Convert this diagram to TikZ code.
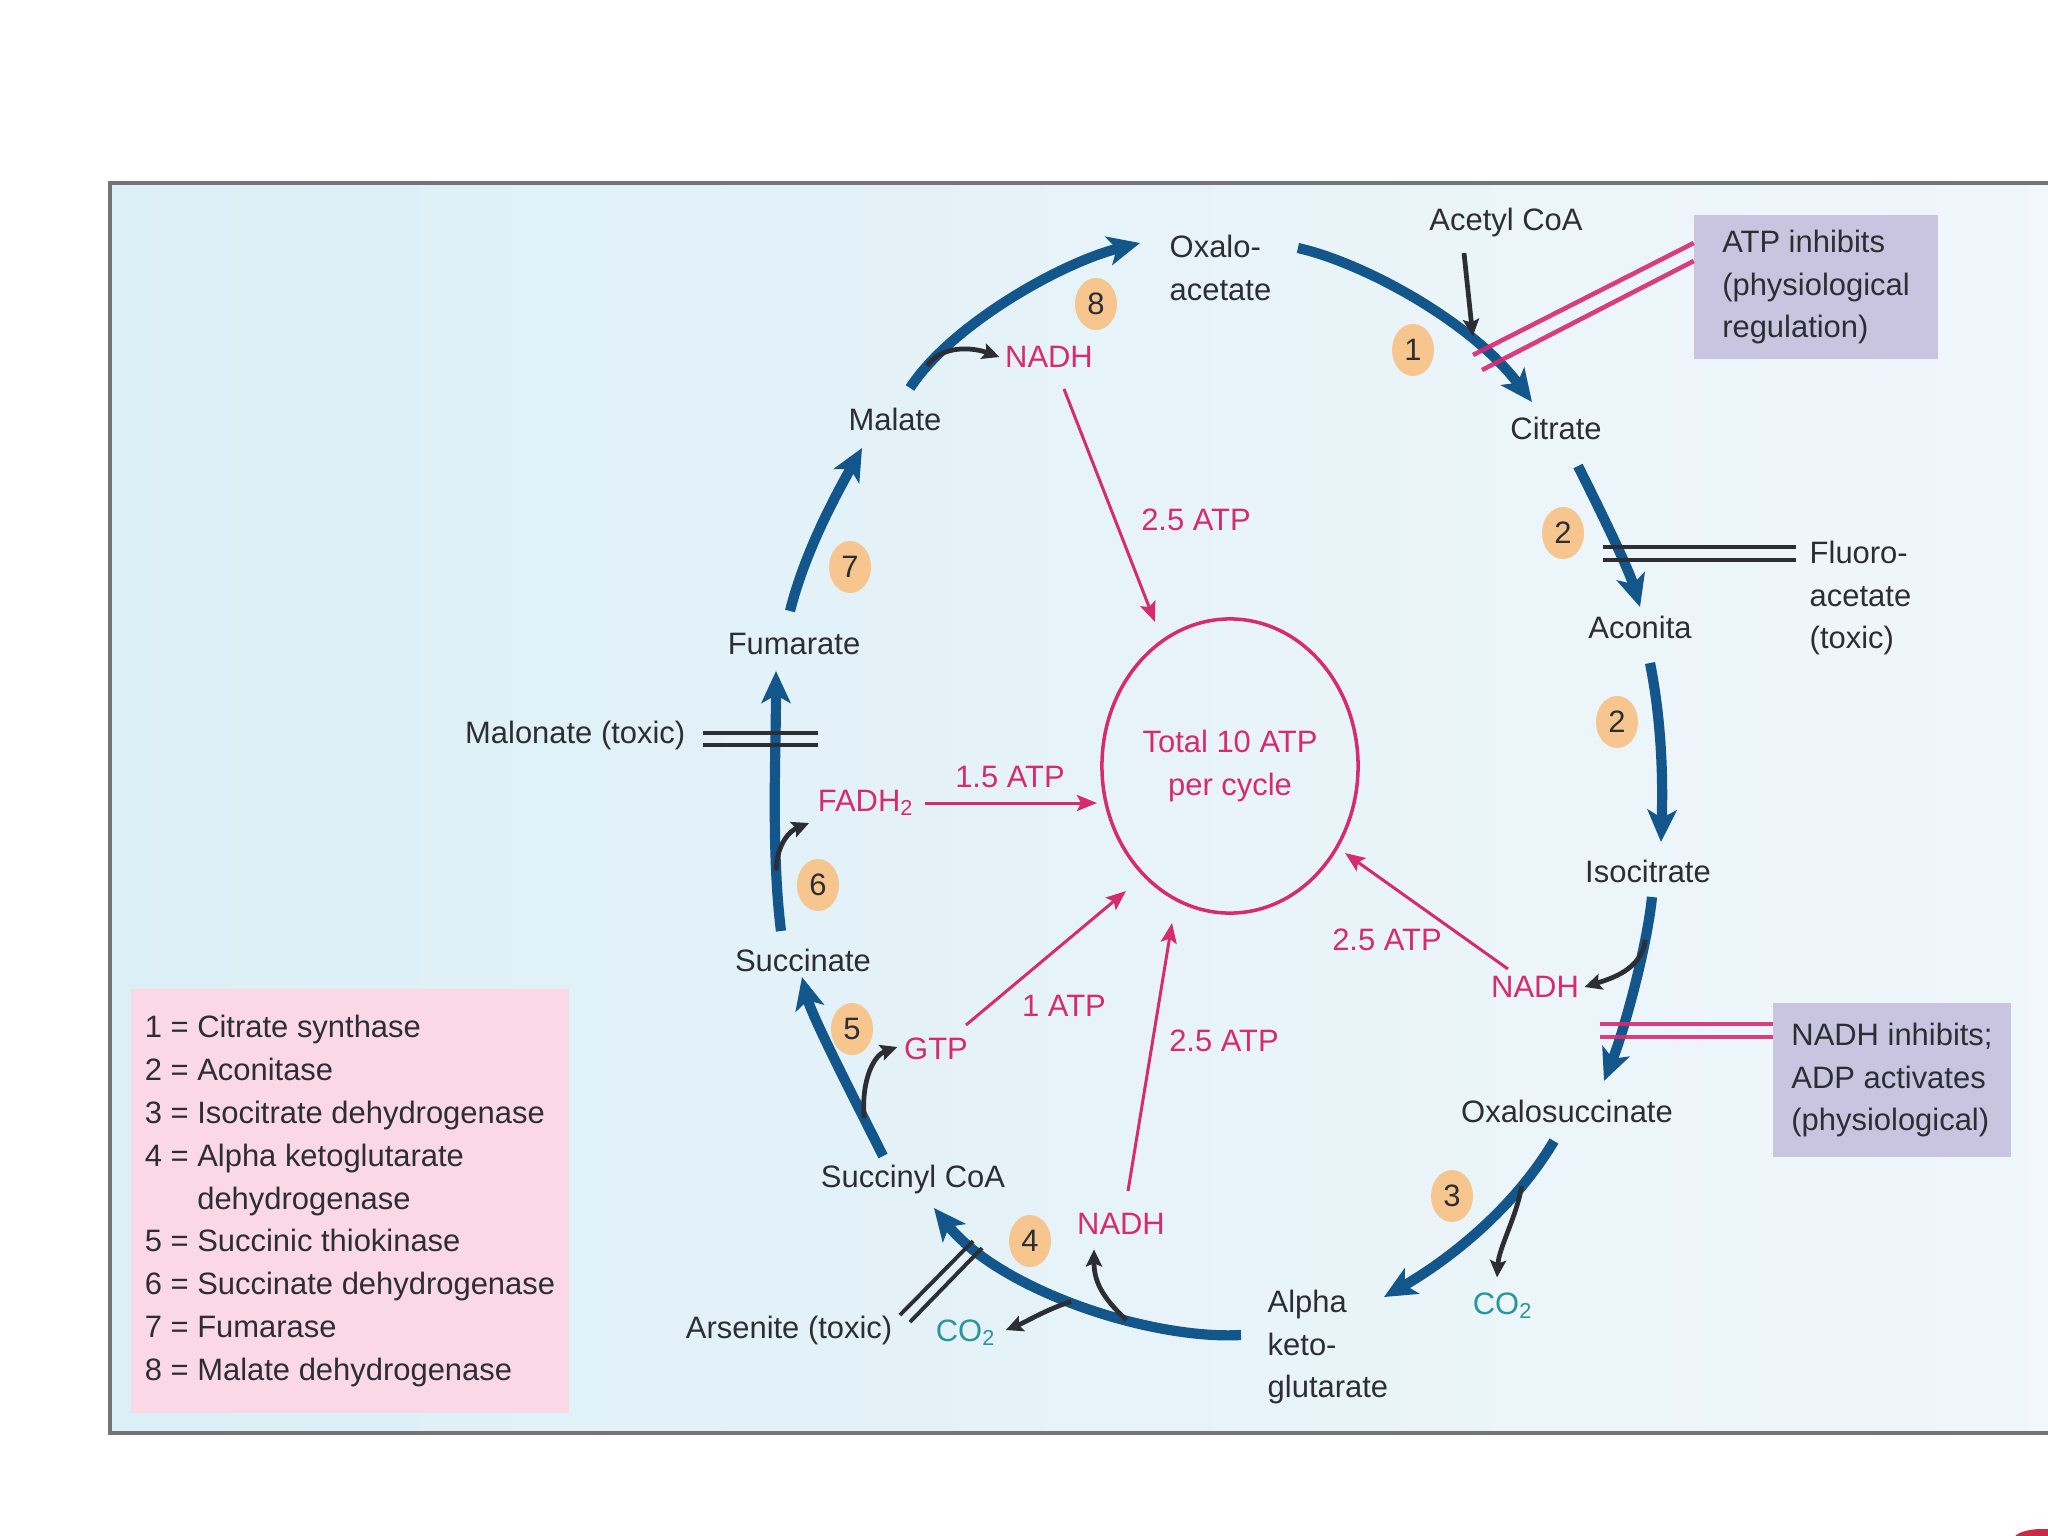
\documentclass[tikz,border=0pt]{standalone}
\usepackage{fontspec}
\setmainfont{Liberation Sans}
\usetikzlibrary{arrows.meta,shapes.geometric}
\definecolor{cycblue}{RGB}{18,86,140}
\definecolor{txtdark}{RGB}{45,45,52}
\definecolor{atppink}{RGB}{216,42,112}
\definecolor{co2teal}{RGB}{40,150,155}
\definecolor{badgeor}{RGB}{247,198,142}
\definecolor{legpink}{RGB}{251,216,230}
\definecolor{regbox}{RGB}{201,197,224}
\definecolor{bgleft}{RGB}{219,239,246}
\definecolor{bgright}{RGB}{241,247,251}
\definecolor{framegray}{RGB}{115,115,120}
\definecolor{cornerred}{RGB}{205,40,70}
\begin{document}
\begin{tikzpicture}[x=0.01cm,y=-0.01cm,
  txt/.style={font=\fontsize{8.8}{12.2}\selectfont,text=txtdark,inner sep=0pt,align=center},
  ltxt/.style={txt,align=left},
  ptxt/.style={txt,text=atppink},
  ttxt/.style={txt,text=co2teal},
  infobox/.style={txt,align=left},
  badge/.style={ellipse,fill=badgeor,minimum width=4.2mm,minimum height=5.2mm,inner sep=0pt,font=\fontsize{8.8}{10}\selectfont,text=txtdark},
  cyc/.style={draw=cycblue,line width=2.9pt,-{Stealth[length=3.2mm,width=2.9mm,inset=0.8mm]}},
  side/.style={draw=txtdark,line width=1.35pt,-{Stealth[length=1.7mm,width=1.6mm,inset=0.3mm]}},
  atparr/.style={draw=atppink,line width=0.85pt,-{Stealth[length=2mm,width=1.6mm,inset=0.4mm]}},
  inhb/.style={draw=txtdark,line width=1.1pt},
  inhp/.style={draw=atppink,line width=1.3pt,opacity=0.9},
]
\useasboundingbox (0,0) rectangle (2048,1536);
\fill[white] (0,0) rectangle (2048,1536);
\shade[left color=bgleft,right color=bgright] (110,183) rectangle (2070,1433);
\draw[framegray,line width=1.3pt] (110,183) rectangle (2070,1433);
\fill[cornerred] (2042,1539) ellipse (28 and 10);

% metabolites and labels
\node[ltxt,anchor=west] (oxa) at (1169,268) {Oxalo-\\acetate};
\node[txt] (acetyl) at (1506,222) {Acetyl CoA};
\node[infobox,fill=regbox,minimum width=24.3mm,minimum height=14.4mm] (atpbox) at (1816,287) {ATP inhibits\\(physiological\\regulation)};
\node[txt] (citrate) at (1556,428) {Citrate};
\node[txt] (aconita) at (1640,627) {Aconita};
\node[ltxt,anchor=west] (fluoro) at (1809,598) {Fluoro-\\acetate\\(toxic)};
\node[txt] (isocit) at (1648,871) {Isocitrate};
\node[ptxt] (nadhR) at (1535,987) {NADH};
\node[infobox,fill=regbox,minimum width=23.7mm,minimum height=15.4mm] (nadhbox) at (1892,1080) {NADH inhibits;\\ADP activates\\(physiological)};
\node[txt] (oxsuc) at (1567,1111) {Oxalosuccinate};
\node[ttxt] (co2R) at (1503,1306) {CO\textsubscript{2}};
\node[ltxt,anchor=west] (akg) at (1267,1347) {Alpha\\keto-\\glutarate};
\node[ptxt] (nadhB) at (1121,1224) {NADH};
\node[txt] (succoa) at (913,1179) {Succinyl CoA};
\node[txt,anchor=east] (arsenite) at (893,1330) {Arsenite (toxic)};
\node[ttxt] (co2B) at (966,1333) {CO\textsubscript{2}};
\node[ptxt] (gtp) at (936,1049) {GTP};
\node[txt] (succinate) at (803,960) {Succinate};
\node[ptxt] (fadh) at (866,803) {FADH\textsubscript{2}};
\node[txt,anchor=east] (malonate) at (686,735) {Malonate (toxic)};
\node[txt] (fumarate) at (794,644) {Fumarate};
\node[txt] (malate) at (895,419) {Malate};
\node[ptxt] (nadhT) at (1049,357) {NADH};
\node[ptxt,ellipse,draw=atppink,line width=1pt,minimum width=25.6mm,minimum height=29.4mm] (total) at (1230,766) {Total 10 ATP\\per cycle};

\node[ptxt] (l1) at (1196,520) {2.5 ATP};
\node[ptxt] (l2) at (1010,777) {1.5 ATP};
\node[ptxt] (l3) at (1064,1006) {1 ATP};
\node[ptxt] (l4) at (1224,1041) {2.5 ATP};
\node[ptxt] (l5) at (1387,940) {2.5 ATP};

% enzyme badges
\node[badge] (b8) at (1096,304) {8};
\node[badge] (b1) at (1413,350) {1};
\node[badge] (b2a) at (1563,533) {2};
\node[badge] (b2b) at (1617,722) {2};
\node[badge] (b3) at (1452,1196) {3};
\node[badge] (b4) at (1030,1241) {4};
\node[badge] (b5) at (852,1029) {5};
\node[badge] (b6) at (818,885) {6};
\node[badge] (b7) at (850,567) {7};

% legend
\node[infobox,fill=legpink,minimum width=43.8mm,minimum height=42.4mm] (legend) at (350,1201) {1 = Citrate synthase\\2 = Aconitase\\3 = Isocitrate dehydrogenase\\4 = Alpha ketoglutarate\\\phantom{4 = }dehydrogenase\\5 = Succinic thiokinase\\6 = Succinate dehydrogenase\\7 = Fumarase\\8 = Malate dehydrogenase};

% cycle arcs
\draw[cyc] ([shift={(15,-31)}]malate.center) .. controls +(40,-62) and +(-80,20) .. ([shift={(-29,-25)}]oxa.west) coordinate[pos=0.12] (s8);
\draw[cyc] ([shift={(26,-20)}]oxa.east) .. controls +(63,14) and +(-62,-82) .. ([shift={(-24,-26)}]citrate.center) coordinate[pos=0.73] (s1);
\draw[cyc] ([shift={(22,38)}]citrate.center) .. controls +(20,40) and +(-12,-40) .. ([shift={(0,-20)}]aconita.center);
\draw[cyc] ([shift={(10,36)}]aconita.center) .. controls +(12,60) and +(2,-60) .. ([shift={(13,-29)}]isocit.center);
\draw[cyc] ([shift={(4,26)}]isocit.center) .. controls +(-5,50) and +(20,-50) .. ([shift={(37,-30)}]oxsuc.center) coordinate[pos=0.25] (s2);
\draw[cyc] ([shift={(-13,30)}]oxsuc.center) .. controls +(-44,74) and +(56,-32) .. ([shift={(117,-50)}]akg.west) coordinate[pos=0.22] (s3);
\draw[cyc] ([shift={(-26,-12)}]akg.west) .. controls +(-91,5) and +(66,82) .. ([shift={(21,29)}]succoa.center) coordinate[pos=0.36] (s4a) coordinate[pos=0.52] (s4b);
\draw[cyc] ([shift={(-30,-23)}]succoa.center) .. controls +(-25,-50) and +(10,40) .. ([shift={(-1,17)}]succinate.center) coordinate[pos=0.22] (s5);
\draw[cyc] ([shift={(-22,-29)}]succinate.center) .. controls +(-10,-80) and +(0,80) .. ([shift={(-18,27)}]fumarate.center) coordinate[pos=0.24] (s6);
\draw[cyc] ([shift={(-4,-33)}]fumarate.center) .. controls +(15,-60) and +(-25,45) .. ([shift={(-33,29)}]malate.center);

% side products
\draw[side] (s8) .. controls +(16,-22) and +(-25,-9) .. ([shift={(-5,0)}]nadhT.west);
\draw[side,shorten >=1.4pt] ([shift={(-42,16)}]acetyl.south) -- (s1);
\draw[side] (s2) .. controls +(-3,30) and +(25,-8) .. ([shift={(5,0)}]nadhR.east);
\draw[side] (s3) .. controls +(-5,30) and +(2,-30) .. ([shift={(-6,-15)}]co2R.north);
\draw[side] (s4a) .. controls +(-21,-20) and +(0,35) .. ([shift={(-27,14)}]nadhB.south);
\draw[side] (s4b) .. controls +(-25,8) and +(20,-8) .. ([shift={(9,-3)}]co2B.east);
\draw[side] (s5) .. controls +(-3,-40) and +(-23,8) .. ([shift={(-6,-2)}]gtp.west);
\draw[side] (s6) .. controls +(1,-30) and +(-17,7) .. ([shift={(-8,20)}]fadh.west);

% ATP yield arrows
\draw[atparr] ([shift={(15,32)}]nadhT.center) -- ([shift={(-75,-144)}]total.center);
\draw[atparr] ([shift={(59,0)}]fadh.center) -- ([shift={(-133,37)}]total.center);
\draw[atparr] ([shift={(30,-24)}]gtp.center) -- ([shift={(-104,125)}]total.center);
\draw[atparr] ([shift={(7,-33)}]nadhB.center) -- ([shift={(-58,157)}]total.center);
\draw[atparr] ([shift={(-27,-18)}]nadhR.center) -- ([shift={(115,87)}]total.center);

% inhibition bars
\coordinate (atpend) at (1473,355);
\draw[inhp] ([shift={(0,-44)}]atpbox.west) -- (atpend);
\draw[inhp] ([shift={(0,-26)}]atpbox.west) -- ([shift={(9,15)}]atpend);
\coordinate (fluend) at (1603,547);
\draw[inhb] ([shift={(-13,-51)}]fluoro.west) -- (fluend);
\draw[inhb] ([shift={(-13,-38)}]fluoro.west) -- ([shift={(0,13)}]fluend);
\coordinate (nadhend) at (1600,1024);
\draw[inhp] ([shift={(0,-56)}]nadhbox.west) -- (nadhend);
\draw[inhp] ([shift={(0,-43)}]nadhbox.west) -- ([shift={(0,13)}]nadhend);
\coordinate (malend) at (818,733);
\draw[inhb] ([shift={(17,-2)}]malonate.east) -- (malend);
\draw[inhb] ([shift={(17,10)}]malonate.east) -- ([shift={(0,12)}]malend);
\coordinate (arsend) at (973,1241);
\draw[inhb] ([shift={(7,-15)}]arsenite.east) -- (arsend);
\draw[inhb] ([shift={(17,-8)}]arsenite.east) -- ([shift={(9,7)}]arsend);
\end{tikzpicture}
\end{document}
